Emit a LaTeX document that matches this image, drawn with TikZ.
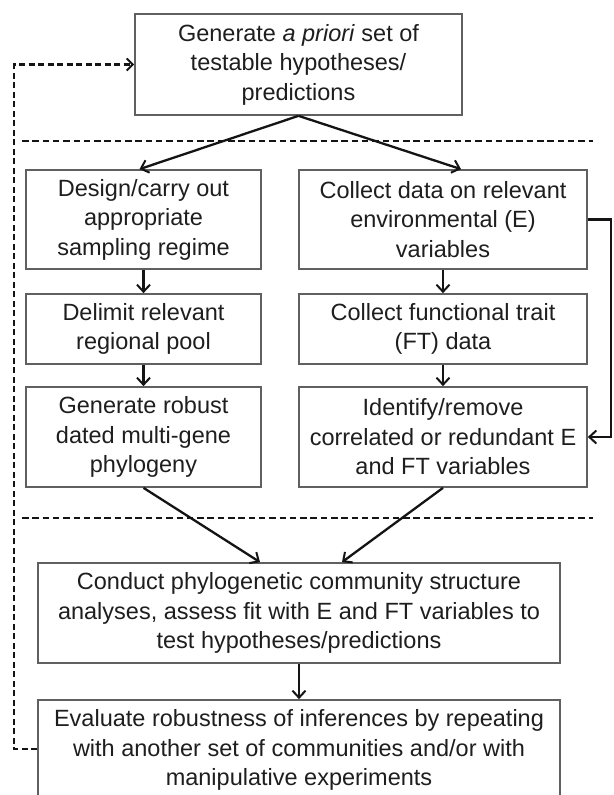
\documentclass[tikz,border=0pt]{standalone}
\usepackage{fontspec}
\setmainfont{Liberation Sans}
\usetikzlibrary{arrows.meta}
\definecolor{boxgray}{HTML}{606060}
\definecolor{txt}{HTML}{1E1E1E}
\tikzset{
  box/.style={draw=boxgray, line width=1.7pt, inner sep=0pt, align=center,
    text=txt, font=\fontsize{23.5}{29.5}\selectfont},
  arr/.style={line width=2.3pt, draw=black!92, -{Straight Barb[length=7pt,width=13pt,line width=2pt]}},
  sep/.style={line width=2.8pt, draw=black!92, dash pattern=on 6.5pt off 3.8pt},
  fb/.style={line width=2.4pt, draw=black!92, dash pattern=on 6pt off 3.5pt, -{Straight Barb[length=6pt,width=12pt,line width=2pt]}}
}
\begin{document}
\begin{tikzpicture}[x=1pt,y=-1pt]
\clip (0,0) rectangle (613,795);
\fill[white] (0,0) rectangle (613,795);

\node[box, minimum width=327pt, minimum height=101pt] (T) at (298.5,64.5)
  {Generate \textit{a priori} set of\\testable hypotheses/\\predictions};

\node[box, minimum width=235pt, minimum height=99pt] (L1) at (143.5,219.5)
  {Design/carry out\\appropriate\\sampling regime};
\node[box, minimum width=235pt, minimum height=70pt] (L2) at (143.5,329)
  {Delimit relevant\\regional pool};
\node[box, minimum width=235pt, minimum height=100pt] (L3) at (143.5,437)
  {Generate robust\\dated multi-gene\\phylogeny};

\node[box, minimum width=288pt, minimum height=99pt] (R1) at (443,219.5)
  {Collect data on relevant\\environmental (E)\\variables};
\node[box, minimum width=288pt, minimum height=70pt] (R2) at (443,329)
  {Collect functional trait\\(FT) data};
\node[box, minimum width=288pt, minimum height=100pt] (R3) at (443,437)
  {Identify/remove\\correlated or redundant E\\and FT variables};

\node[box, minimum width=522pt, minimum height=100pt] (C) at (299,613)
  {Conduct phylogenetic community structure\\analyses, assess fit with E and FT variables to\\test hypotheses/predictions};
\node[box, minimum width=522pt, minimum height=100pt] (E) at (299,750)
  {Evaluate robustness of inferences by repeating\\with another set of communities and/or with\\manipulative experiments};

% separators
\coordinate (s1a) at (22,141); \coordinate (s1b) at (593,141);
\coordinate (s2a) at (22,518); \coordinate (s2b) at (593,518);
\draw[sep] (s1a) -- (s1b);
\draw[sep] (s2a) -- (s2b);

% connectors
\draw[arr] (T.south) -- ([xshift=-4pt]L1.north);
\draw[arr] (T.south) -- ([xshift=18pt]R1.north);
\draw[arr] (L1.south) -- (L2.north);
\draw[arr] (L2.south) -- (L3.north);
\draw[arr] (R1.south) -- (R2.north);
\draw[arr] (R2.south) -- (R3.north);
\draw[arr] (L3.south) -- ([xshift=-39pt]C.north);
\draw[arr] (R3.south) -- ([xshift=43pt]C.north);
\draw[arr] (C.south) -- (E.north);
\draw[arr] (R1.east) -- ++(23,0) |- (R3.east);

% feedback
\draw[fb] ([yshift=1pt]E.west) -- ++(-23,0) |- (T.west);
\end{tikzpicture}
\end{document}
